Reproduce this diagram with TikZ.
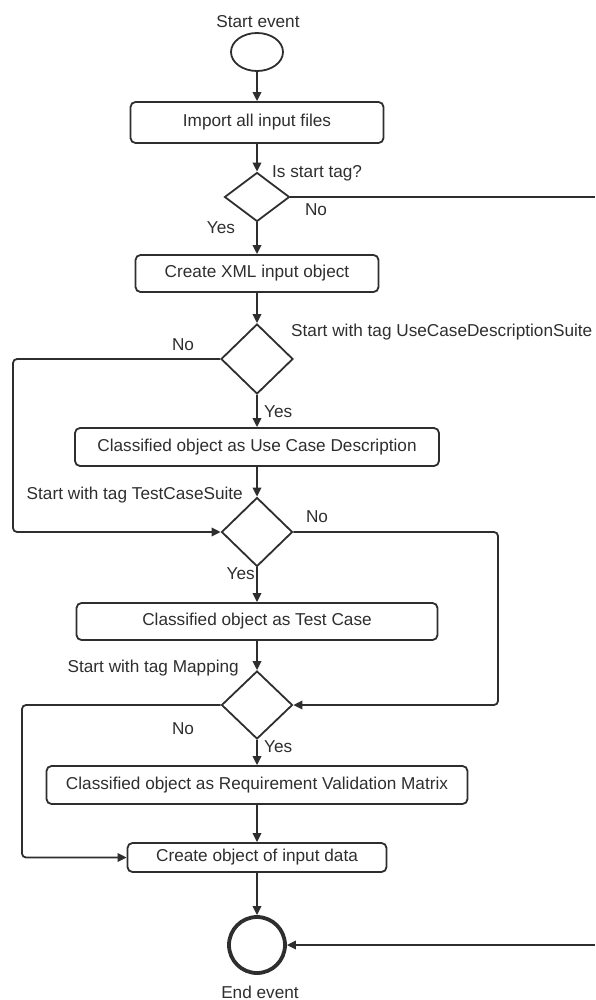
\documentclass[tikz,border=0pt]{standalone}
\usepackage{fontspec}
\setmainfont{Liberation Sans}
\usetikzlibrary{arrows.meta,shapes.geometric}
\definecolor{ink}{HTML}{2E2E2E}
\begin{document}
\begin{tikzpicture}[x=1pt,y=-1pt,
  every node/.style={font=\fontsize{17.2}{20}\selectfont, text=ink},
  flow/.style={draw=ink, line width=1.8pt, rounded corners=4pt},
  arr/.style={flow, -{Triangle[length=9pt,width=8.5pt]}},
  procbox/.style={draw=ink, line width=1.8pt, rounded corners=5pt, inner sep=0pt, anchor=center},
  decide/.style={draw=ink, line width=1.8pt, diamond, inner sep=0pt},
  lbl/.style={inner sep=0pt}
]
\useasboundingbox (0,0) rectangle (595,1000);

% events
\node[draw=ink, line width=1.8pt, ellipse, minimum width=52pt, minimum height=38pt, inner sep=0pt] (start) at (257,52) {};
\node[lbl] (startlbl) at (258,22) {Start event};
\node[draw=ink, line width=3.8pt, circle, minimum size=56pt, inner sep=0pt] (end) at (257,945) {};
\node[lbl] (endlbl) at (260,992) {End event};

% activities
\node[procbox, minimum width=253pt, minimum height=41pt] (import) at (257,122.5) {Import all input files};
\node[procbox, minimum width=243pt, minimum height=37pt] (xml) at (257,273.5) {Create XML input object};
\node[procbox, minimum width=364pt, minimum height=38pt] (ucd) at (257,447) {Classified object as Use Case Description};
\node[procbox, minimum width=361pt, minimum height=37pt] (tc) at (257,621.5) {Classified object as Test Case};
\node[procbox, minimum width=421pt, minimum height=38pt] (rvm) at (257,785) {Classified object as Requirement Validation Matrix};
\node[procbox, minimum width=259pt, minimum height=29pt] (cod) at (257,857.5) {Create object of input data};

% decisions
\node[decide, minimum width=65pt, minimum height=49pt] (d1) at (257,197) {};
\node[decide, minimum width=72pt, minimum height=70pt] (d2) at (257,359) {};
\node[decide, minimum width=71pt, minimum height=69pt] (d3) at (257,532) {};
\node[decide, minimum width=71pt, minimum height=68pt] (d4) at (257,705) {};

% decision labels
\node[lbl, anchor=west] (q1) at (272,173) {Is start tag?};
\node[lbl] (no1) at (316,210) {No};
\node[lbl] (yes1) at (221,228) {Yes};
\node[lbl, anchor=west] (q2) at (291,332) {Start with tag UseCaseDescriptionSuite};
\node[lbl] (no2) at (183,345) {No};
\node[lbl, anchor=west] (yes2) at (264,412) {Yes};
\node[lbl, anchor=east] (q3) at (243,495) {Start with tag TestCaseSuite};
\node[lbl] (no3) at (317,517) {No};
\node[lbl, anchor=east] (yes3) at (255,574) {Yes};
\node[lbl, anchor=east] (q4) at (239,668) {Start with tag Mapping};
\node[lbl] (no4) at (183,729) {No};
\node[lbl, anchor=west] (yes4) at (264,747) {Yes};

% bends and the branch that leaves at the right edge
\coordinate (outA) at (595,197);
\coordinate (outB) at (595,945);
\coordinate (l2) at (13,359);
\coordinate (r3) at (498,532);
\coordinate (l4) at (22,705);

% main flow
\draw[arr] (start) -- (import);
\draw[arr] (import) -- (d1);
\draw[arr] (d1) -- (xml);
\draw[arr] (xml) -- (d2);
\draw[arr] (d2) -- (ucd);
\draw[arr] (ucd) -- (d3);
\draw[arr] (d3) -- (tc);
\draw[arr] (tc) -- (d4);
\draw[arr] (d4) -- (rvm);
\draw[arr] (rvm) -- (cod);
\draw[arr] (cod) -- (end);

% branches
\draw[flow] (d1.east) -- (outA);
\draw[arr] (outB) -- (end.east);
\draw[arr] (d2.west) -- (l2) |- (d3.west);
\draw[arr] (d3.east) -- (r3) |- (d4.east);
\draw[arr] (d4.west) -- (l4) |- (cod.west);
\end{tikzpicture}
\end{document}
